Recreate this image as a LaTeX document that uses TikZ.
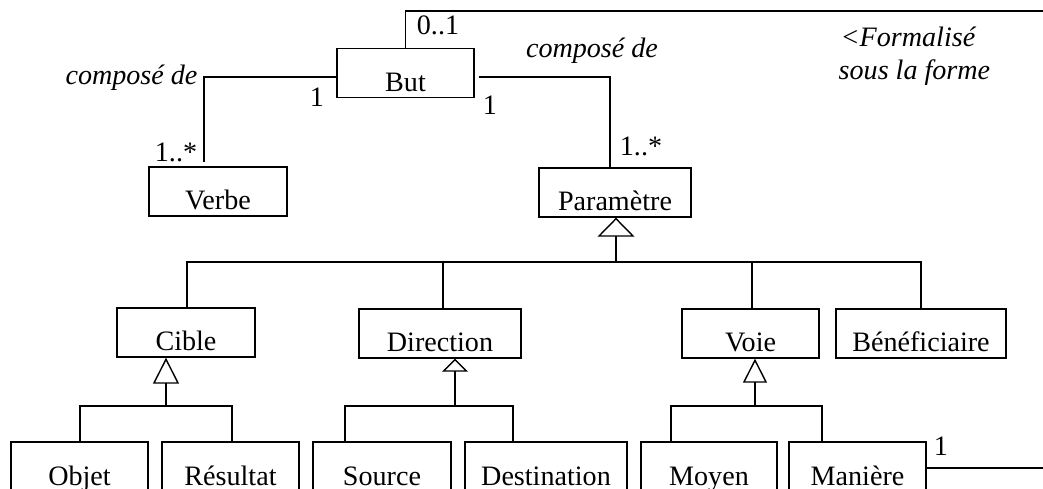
\documentclass[tikz,border=0pt]{standalone}
\usepackage{fontspec}
\setmainfont{Liberation Serif}
\usetikzlibrary{arrows.meta}

\begin{document}
\begin{tikzpicture}[x=0.02cm,y=-0.02cm,line join=miter,line width=0.8pt]
	\tikzset{classe/.style={draw,inner xsep=0pt,inner ysep=0pt,text height=0.86cm,text depth=0.12cm,minimum width=#1*0.02cm,font=\fontsize{16}{18}\selectfont},
		lab/.style={anchor=base,inner sep=0pt,font=\fontsize{16}{18}\selectfont},
		role/.style={lab,font=\fontsize{16}{18}\selectfont\itshape},
		isa/.style 2 args={-{Triangle[open,length=#1,width=#2]}}}
	\useasboundingbox (0,0) rectangle (1043,489);
	% classes
	\node[classe=137] (But) at (405.5,73) {But};
	\node[classe=138] (Verbe) at (218,191.5) {Verbe};
	\node[classe=152] (Parametre) at (615,192.5) {Paramètre};
	\node[classe=138] (Cible) at (186,332.5) {Cible};
	\node[classe=162] (Direction) at (440,333.5) {Direction};
	\node[classe=137] (Voie) at (750.5,333.5) {Voie};
	\node[classe=170] (Beneficiaire) at (921,333.5) {Bénéficiaire};
	\node[classe=137] (Objet) at (79.5,466.5) {Objet};
	\node[classe=137] (Resultat) at (230.5,466.5) {Résultat};
	\node[classe=138] (Source) at (382,466.5) {Source};
	\node[classe=162] (Destination) at (546,466.5) {Destination};
	\node[classe=136] (Moyen) at (709,466.5) {Moyen};
	\node[classe=137] (Maniere) at (857.5,466.5) {Manière};
	% associations
	\coordinate (cL) at (204,77);
	\coordinate (cR) at (610,77);
	\coordinate (hautD) at (1043,11);
	\coordinate (basD) at (1043,468);
	\draw[shorten >=0.08cm] (cL -| But.west) -- (cL) -- (cL |- Verbe.north);
	\draw[shorten <=0.08cm] (cR -| But.east) -- (cR) -- (cR |- Parametre.north);
	\draw (But.north) |- (hautD);
	\draw (Maniere.east |- basD) -- (basD);
	% generalisations
	\coordinate (busP) at (616,262);
	\coordinate (pC) at (187,262);
	\coordinate (pD) at (443,262);
	\coordinate (pV) at (752,262);
	\coordinate (pB) at (921,262);
	\draw[isa={0.38cm}{0.74cm}] (busP) -- (busP |- Parametre.south);
	\draw (pC |- Cible.north) -- (pC) -- (pB) -- (pB |- Beneficiaire.north)
		(pD) -- (pD |- Direction.north)
		(pV) -- (pV |- Voie.north);
	\coordinate (busC) at (166,406);
	\coordinate (oC) at (80,406);
	\coordinate (rC) at (232,406);
	\draw[isa={0.52cm}{0.52cm}] (busC) -- (busC |- Cible.south);
	\draw (oC |- Objet.north) -- (oC) -- (rC) -- (rC |- Resultat.north);
	\coordinate (busD) at (455,406);
	\coordinate (sD) at (345,406);
	\coordinate (dD) at (513,406);
	\draw[isa={0.26cm}{0.52cm}] (busD) -- (busD |- Direction.south);
	\draw (sD |- Source.north) -- (sD) -- (dD) -- (dD |- Destination.north);
	\coordinate (busV) at (755,406);
	\coordinate (mV) at (671,406);
	\coordinate (nV) at (822,406);
	\draw[isa={0.48cm}{0.48cm}] (busV) -- (busV |- Voie.south);
	\draw (mV |- Moyen.north) -- (mV) -- (nV) -- (nV |- Maniere.north);
	% multiplicities and roles
	\node[lab] (m01) at (438,35) {0..1};
	\node[lab] (mA) at (317,107) {1};
	\node[lab] (mB) at (490,115) {1};
	\node[lab] (mC) at (176,162) {1..*};
	\node[lab] (mD) at (641,156) {1..*};
	\node[lab] (mE) at (941,455) {1};
	\node[role] (roleA) at (131.5,85) {composé de};
	\node[role] (roleB) at (592,58) {composé de};
	\node[role,anchor=base west] (noteA) at (840,47) {<Formalisé};
	\node[role,anchor=base west] (noteB) at (838,80) {sous la forme};
\end{tikzpicture}
\end{document}
